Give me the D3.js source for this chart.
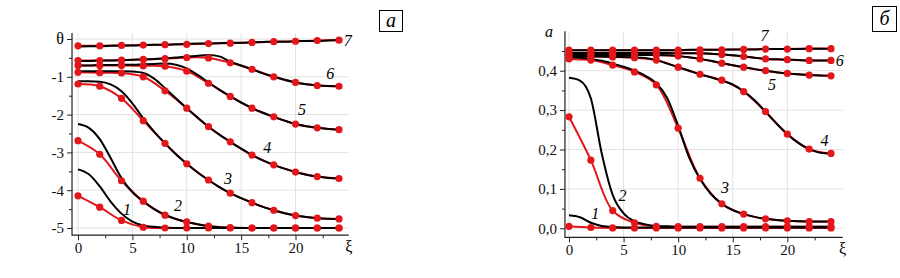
<!DOCTYPE html>
<html>
<head>
<meta charset="utf-8">
<script src="https://cdn.jsdelivr.net/npm/d3@7"></script>
<style>
  body { margin: 0; background: #fff; }
</style>
</head>
<body>
<svg id="chart" width="900" height="278"></svg>
<script>
// x grids: red markers every 2, black (model) curves every 1
const xsRed = [0, 2, 4, 6, 8, 10, 12, 14, 16, 18, 20, 22, 24]
const xsBlack = [0, 1, 2, 3, 4, 5, 6, 7, 8, 9, 10, 11, 12, 13, 14, 15, 16, 17, 18, 19, 20, 21, 22, 23, 24]

// panel a : theta
const thetaBlack = [
  [-3.45, -3.58, -3.9, -4.3, -4.62, -4.83, -4.93, -4.97, -4.99, -5, -5, -5, -5, -5, -5, -5, -5, -5, -5, -5, -5, -5, -5, -5, -5],
  [-2.25, -2.35, -2.65, -3.15, -3.68, -4.05, -4.3, -4.5, -4.65, -4.76, -4.84, -4.9, -4.95, -4.98, -4.99, -5, -5, -5, -5, -5, -5, -5, -5, -5, -5],
  [-1.12, -1.12, -1.13, -1.2, -1.38, -1.7, -2.1, -2.45, -2.76, -3.05, -3.3, -3.53, -3.73, -3.92, -4.08, -4.21, -4.33, -4.44, -4.53, -4.61, -4.67, -4.71, -4.74, -4.755, -4.76],
  [-0.85, -0.85, -0.85, -0.85, -0.85, -0.86, -0.9, -1.05, -1.3, -1.57, -1.83, -2.08, -2.32, -2.53, -2.72, -2.9, -3.07, -3.21, -3.33, -3.43, -3.52, -3.59, -3.64, -3.675, -3.69],
  [-0.7, -0.7, -0.69, -0.69, -0.68, -0.68, -0.67, -0.66, -0.65, -0.68, -0.78, -0.95, -1.15, -1.34, -1.52, -1.68, -1.83, -1.95, -2.06, -2.16, -2.25, -2.31, -2.35, -2.38, -2.4],
  [-0.58, -0.58, -0.57, -0.57, -0.56, -0.55, -0.54, -0.53, -0.51, -0.49, -0.47, -0.44, -0.42, -0.46, -0.6, -0.7, -0.8, -0.91, -1.0, -1.08, -1.15, -1.2, -1.23, -1.245, -1.25],
  [-0.2, -0.19, -0.19, -0.18, -0.17, -0.17, -0.16, -0.15, -0.15, -0.14, -0.13, -0.12, -0.12, -0.11, -0.1, -0.1, -0.09, -0.08, -0.07, -0.07, -0.06, -0.05, -0.05, -0.04, -0.03]
]
const thetaRed = [
  [-4.15, -4.45, -4.8, -4.98, -5, -5, -5, -5, -5, -5, -5, -5, -5],
  [-2.69, -3.05, -3.75, -4.29, -4.66, -4.84, -4.95, -4.99, -5, -5, -5, -5, -5],
  [-1.19, -1.25, -1.57, -2.16, -2.76, -3.3, -3.73, -4.08, -4.33, -4.53, -4.67, -4.74, -4.76],
  [-0.88, -0.89, -0.9, -1.0, -1.37, -1.83, -2.32, -2.72, -3.07, -3.33, -3.52, -3.64, -3.69],
  [-0.7, -0.7, -0.7, -0.71, -0.72, -0.85, -1.17, -1.52, -1.83, -2.06, -2.25, -2.35, -2.4],
  [-0.57, -0.57, -0.56, -0.54, -0.52, -0.49, -0.5, -0.63, -0.8, -1.0, -1.15, -1.23, -1.25],
  [-0.18, -0.18, -0.17, -0.16, -0.15, -0.14, -0.12, -0.11, -0.09, -0.07, -0.06, -0.04, -0.03]
]
const thetaLabelX = [4.5, 9.2, 13.8, 17.4, 20.6, 23.2, 24.8]
const thetaLabelY = [-4.52, -4.39, -3.7, -2.86, -1.85, -0.9, -0.03]
const thetaTicks = [-5, -4, -3, -2, -1, 0]
const thetaMinor = [-4.5, -3.5, -2.5, -1.5, -0.5]

// panel б : amplitude
const ampBlack = [
  [0.033, 0.028, 0.014, 0.006, 0.003, 0.002, 0.002, 0.002, 0.002, 0.002, 0.002, 0.002, 0.002, 0.002, 0.002, 0.002, 0.002, 0.002, 0.002, 0.002, 0.002, 0.002, 0.002, 0.002, 0.002],
  [0.382, 0.375, 0.33, 0.19, 0.085, 0.038, 0.018, 0.01, 0.006, 0.005, 0.004, 0.004, 0.004, 0.004, 0.004, 0.004, 0.004, 0.004, 0.004, 0.004, 0.004, 0.004, 0.004, 0.004, 0.004],
  [0.434, 0.433, 0.43, 0.425, 0.418, 0.41, 0.4, 0.387, 0.368, 0.33, 0.26, 0.18, 0.125, 0.087, 0.062, 0.046, 0.036, 0.029, 0.024, 0.021, 0.019, 0.018, 0.017, 0.017, 0.017],
  [0.437, 0.437, 0.436, 0.436, 0.435, 0.435, 0.434, 0.432, 0.427, 0.418, 0.409, 0.4, 0.391, 0.383, 0.375, 0.365, 0.348, 0.325, 0.296, 0.266, 0.239, 0.217, 0.201, 0.192, 0.19],
  [0.44, 0.44, 0.44, 0.44, 0.44, 0.44, 0.44, 0.44, 0.44, 0.439, 0.437, 0.434, 0.43, 0.425, 0.419, 0.414, 0.409, 0.404, 0.4, 0.396, 0.393, 0.391, 0.389, 0.388, 0.387],
  [0.445, 0.445, 0.445, 0.445, 0.445, 0.445, 0.445, 0.445, 0.445, 0.445, 0.444, 0.444, 0.444, 0.443, 0.441, 0.439, 0.436, 0.433, 0.43, 0.429, 0.428, 0.427, 0.426, 0.426, 0.426],
  [0.452, 0.452, 0.452, 0.452, 0.452, 0.452, 0.452, 0.452, 0.452, 0.452, 0.452, 0.453, 0.453, 0.453, 0.453, 0.454, 0.454, 0.454, 0.455, 0.455, 0.455, 0.455, 0.456, 0.456, 0.456]
]
const ampRed = [
  [0.005, 0.002, 0.001, 0.001, 0.001, 0.001, 0.001, 0.001, 0.001, 0.001, 0.001, 0.001, 0.001],
  [0.283, 0.173, 0.045, 0.014, 0.005, 0.004, 0.004, 0.004, 0.004, 0.004, 0.004, 0.004, 0.004],
  [0.43, 0.427, 0.414, 0.397, 0.364, 0.254, 0.127, 0.062, 0.036, 0.024, 0.019, 0.017, 0.017],
  [0.436, 0.436, 0.435, 0.433, 0.427, 0.409, 0.391, 0.376, 0.347, 0.296, 0.239, 0.201, 0.19],
  [0.44, 0.44, 0.44, 0.44, 0.44, 0.437, 0.43, 0.419, 0.409, 0.4, 0.393, 0.389, 0.387],
  [0.445, 0.445, 0.445, 0.445, 0.445, 0.444, 0.444, 0.441, 0.436, 0.43, 0.428, 0.426, 0.426],
  [0.452, 0.452, 0.452, 0.452, 0.452, 0.452, 0.453, 0.453, 0.454, 0.455, 0.455, 0.456, 0.456]
]
const ampLabelX = [2.4, 4.9, 14.3, 23.4, 18.6, 24.8, 17.9]
const ampLabelY = [0.039, 0.084, 0.105, 0.224, 0.364, 0.425, 0.49]
const ampTicks = [0, 0.1, 0.2, 0.3, 0.4]
const ampMinor = [0.05, 0.15, 0.25, 0.35, 0.45]

const xTicks = [0, 5, 10, 15, 20]
const xMinor = [2.5, 7.5, 12.5, 17.5, 22.5]
const curveNames = ['1', '2', '3', '4', '5', '6', '7']

const svg = d3.select('#chart')
const RED = '#e3161c'
const SERIF = "'Liberation Serif', 'Times New Roman', Times, 'DejaVu Serif', serif"

function drawPanel(p) {
  const x = d3.scaleLinear().domain([0, 24]).range(p.xRange)
  const y = d3.scaleLinear().domain(p.yDomain).range(p.yRange)
  const g = svg.append('g')
  const left = x(p.xExtent[0]), right = x(p.xExtent[1])
  const top = y(p.yExtent[1]), bottom = y(p.yExtent[0])

  // grid
  g.append('g')
    .selectAll('line')
    .data(xTicks)
    .enter()
    .append('line')
    .attr('x1', x).attr('x2', x)
    .attr('y1', top).attr('y2', bottom)
    .attr('stroke', '#e2e2e2')
  g.append('g')
    .selectAll('line')
    .data(p.yTicks)
    .enter()
    .append('line')
    .attr('y1', y).attr('y2', y)
    .attr('x1', left).attr('x2', right)
    .attr('stroke', '#e2e2e2')

  // axes
  const ax = g.append('g').attr('transform', 'translate(0,' + bottom + ')')
  ax.call(d3.axisBottom(x).tickValues(xTicks).tickSize(5).tickPadding(2))
  ax.append('g').call(d3.axisBottom(x).tickValues(xMinor).tickSize(3).tickFormat(''))
  const ay = g.append('g').attr('transform', 'translate(' + left + ',0)')
  ay.call(d3.axisLeft(y).tickValues(p.yTicks).tickSize(5).tickPadding(3).tickFormat(p.yFormat))
  ay.append('g').call(d3.axisLeft(y).tickValues(p.yMinor).tickSize(3).tickFormat(''))
  g.selectAll('.domain').remove()
  g.selectAll('.tick text')
    .style('font-family', SERIF)
    .style('font-size', '15px')
    .attr('fill', '#111')
  g.selectAll('.tick line').attr('stroke', '#222')
  g.append('path')
    .attr('d', 'M' + left + ',' + top + 'V' + bottom + 'H' + right)
    .attr('fill', 'none')
    .attr('stroke', '#222')
    .attr('stroke-width', 1.2)

  g.append('text')
    .attr('x', right)
    .attr('y', bottom + 17)
    .attr('text-anchor', 'middle')
    .style('font-family', SERIF)
    .style('font-size', '16px')
    .text('ξ')
  g.append('text')
    .attr('x', p.yTitlePos[0])
    .attr('y', p.yTitlePos[1])
    .attr('text-anchor', 'end')
    .style('font-family', SERIF)
    .style('font-size', '16px')
    .style('font-style', p.yTitleItalic ? 'italic' : 'normal')
    .text(p.yTitle)

  const lineRed = d3.line().x((d, i) => x(xsRed[i])).y(d => y(d)).curve(d3.curveCatmullRom.alpha(0.5))
  const lineBlack = d3.line().x((d, i) => x(xsBlack[i])).y(d => y(d)).curve(d3.curveMonotoneX)

  g.append('g')
    .selectAll('path')
    .data(p.red)
    .enter()
    .append('path')
    .attr('d', lineRed)
    .attr('fill', 'none')
    .attr('stroke', RED)
    .attr('stroke-width', 2)

  g.append('g')
    .selectAll('path')
    .data(p.black)
    .enter()
    .append('path')
    .attr('d', lineBlack)
    .attr('fill', 'none')
    .attr('stroke', '#000')
    .attr('stroke-width', 2)

  g.append('g')
    .selectAll('g')
    .data(p.red)
    .enter()
    .append('g')
    .selectAll('circle')
    .data(d => d)
    .enter()
    .append('circle')
    .attr('cx', (d, i) => x(xsRed[i]))
    .attr('cy', d => y(d))
    .attr('r', 3.6)
    .attr('fill', RED)

  g.append('g')
    .selectAll('text')
    .data(curveNames)
    .enter()
    .append('text')
    .attr('x', (d, i) => x(p.labelX[i]))
    .attr('y', (d, i) => y(p.labelY[i]))
    .attr('dy', '0.35em')
    .attr('text-anchor', 'middle')
    .style('font-family', SERIF)
    .style('font-size', '16px')
    .style('font-style', 'italic')
    .text(d => d)

  // panel letter in a box
  const b = p.box
  g.append('rect')
    .attr('x', b[0]).attr('y', b[1])
    .attr('width', b[2]).attr('height', b[3])
    .attr('fill', 'none')
    .attr('stroke', '#000')
  g.append('text')
    .attr('x', b[0] + b[2] / 2)
    .attr('y', b[1] + b[3] / 2)
    .attr('dy', '0.3em')
    .attr('text-anchor', 'middle')
    .style('font-family', SERIF)
    .style('font-size', '20px')
    .style('font-style', 'italic')
    .text(p.letter)
}

drawPanel({
  xRange: [78, 339],
  yDomain: [-5, 0],
  yRange: [228, 39],
  xExtent: [-0.55, 24.9],
  yExtent: [-5.19, 0.16],
  yTicks: thetaTicks,
  yMinor: thetaMinor,
  yFormat: d => (d === 0 ? '' : d),
  yTitle: 'θ',
  yTitleItalic: false,
  yTitlePos: [64, 44],
  black: thetaBlack,
  red: thetaRed,
  labelX: thetaLabelX,
  labelY: thetaLabelY,
  box: [379.5, 10.5, 23, 21],
  letter: 'а'
})

drawPanel({
  xRange: [569, 831],
  yDomain: [0, 0.4],
  yRange: [228.3, 70.7],
  xExtent: [-0.37, 25.07],
  yExtent: [-0.023, 0.5],
  yTicks: ampTicks,
  yMinor: ampMinor,
  yFormat: d => d.toFixed(1).replace('.', ','),
  yTitle: 'a',
  yTitleItalic: true,
  yTitlePos: [553, 37],
  black: ampBlack,
  red: ampRed,
  labelX: ampLabelX,
  labelY: ampLabelY,
  box: [872.5, 6.5, 24, 25],
  letter: 'б'
})
</script>
</body>
</html>
